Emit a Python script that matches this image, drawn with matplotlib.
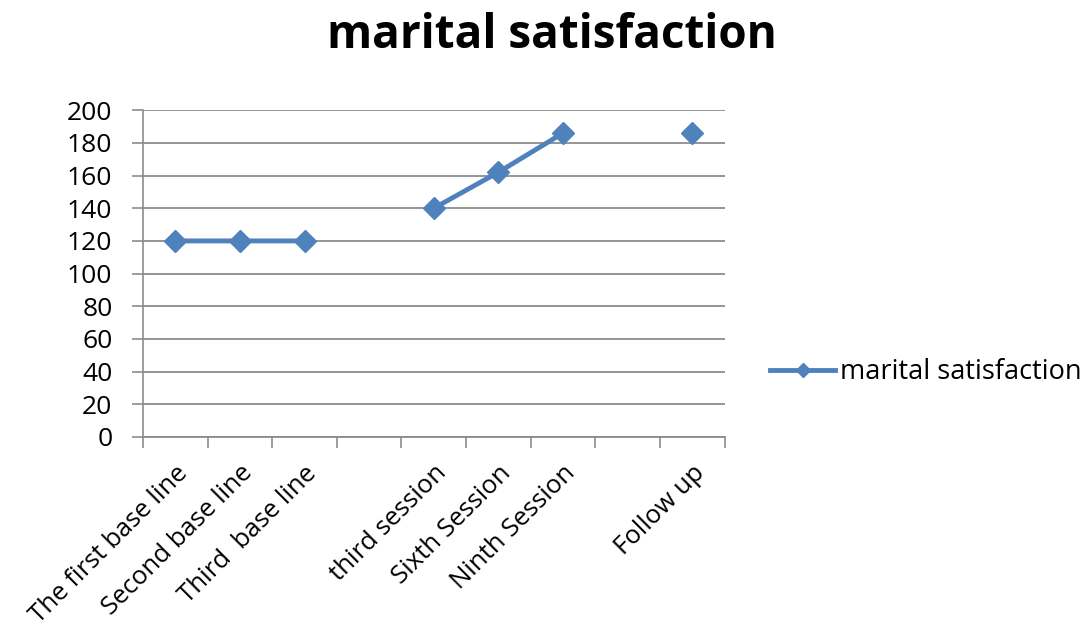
import numpy as np
import matplotlib
matplotlib.use("Agg")
from matplotlib import pyplot as plt

plt.rcParams["font.family"] = ["Open Sans", "DejaVu Sans"]

categories = ["The first base line", "Second base line", "Third  base line", "",
              "third session", "Sixth Session", "Ninth Session", "", "Follow up"]
values = [120, 120, 120, np.nan, 140, 162, 186, np.nan, 186]
y_ticks = list(range(0, 201, 20))

blue = "#4F81BD"
grid_gray = "#8C8C8C"

fig = plt.figure(figsize=(10.83, 6.37), dpi=100)
ax = fig.add_axes([0.132, 0.314, 0.537, 0.513])

x = np.arange(len(categories))
ax.plot(x, values, color=blue, linewidth=3.5, marker="D", markersize=11.5,
        label="marital satisfaction")

ax.set_xlim(-0.5, len(categories) - 0.5)
ax.set_ylim(0, 200)
ax.set_yticks(y_ticks)
ax.set_yticklabels([str(v) for v in y_ticks], fontsize=19)
ax.yaxis.grid(True, color=grid_gray, linewidth=1.3)
ax.set_axisbelow(True)

ax.set_xticks(x)
ax.set_xticklabels(categories, rotation=45, ha="right", va="top",
                   rotation_mode="anchor", fontsize=18.5)
ax.set_xticks(np.arange(-0.5, len(categories)), minor=True)
ax.tick_params(axis="x", which="major", length=0, pad=17)
ax.tick_params(axis="x", which="minor", length=8, color=grid_gray, width=1.2)
ax.tick_params(axis="y", length=8, color=grid_gray, width=1.2, pad=14)

for side in ["top", "right"]:
    ax.spines[side].set_visible(False)
ax.spines["left"].set_color(grid_gray)
ax.spines["bottom"].set_color(grid_gray)
ax.spines["left"].set_linewidth(1.2)
ax.spines["bottom"].set_linewidth(1.3)

fig.text(0.51, 0.945, "marital satisfaction", ha="center", va="center",
         fontsize=33, fontweight="bold")

ax.legend(loc="center left", bbox_to_anchor=(0.711, 0.416),
          bbox_transform=fig.transFigure, borderaxespad=0, borderpad=0,
          frameon=False, fontsize=19.5, handlelength=2.4, handletextpad=0.2,
          markerscale=0.6)

fig.savefig("out.png", dpi=100)
